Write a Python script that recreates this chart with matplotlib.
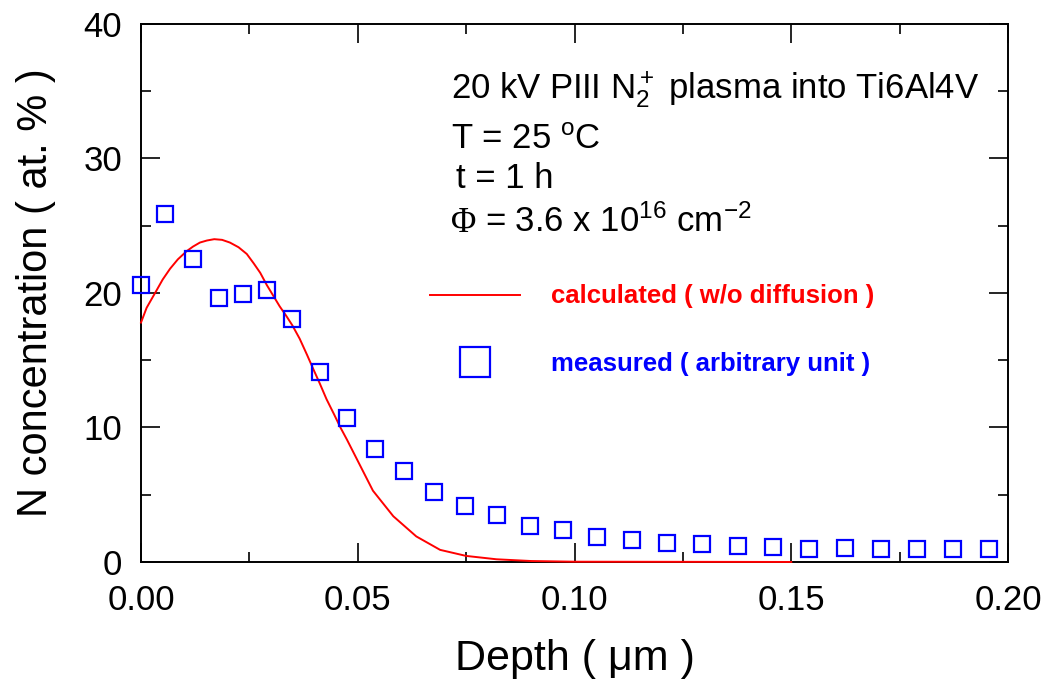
import matplotlib
matplotlib.use("Agg")
import matplotlib.pyplot as plt
from matplotlib.ticker import MultipleLocator

plt.rcParams['font.family'] = ['Liberation Sans', 'DejaVu Sans']
plt.rcParams['mathtext.fontset'] = 'custom'
plt.rcParams['mathtext.rm'] = 'Liberation Sans'
plt.rcParams['mathtext.it'] = 'Liberation Sans'

# calculated profile (no diffusion)
calc_depth = [0.0, 0.0013, 0.0036, 0.0050, 0.0067, 0.0085, 0.0105, 0.0120,
              0.0136, 0.0152, 0.0169, 0.0187, 0.0205, 0.0225, 0.0244, 0.0260,
              0.0275, 0.0290, 0.0305, 0.0320, 0.0335, 0.0349, 0.0366, 0.0383,
              0.0398, 0.0412, 0.0428, 0.0445, 0.0460, 0.0475, 0.0505, 0.0535,
              0.0582, 0.0635, 0.069, 0.075, 0.082, 0.090, 0.100, 0.150]
calc_conc = [17.8, 18.9, 20.2, 21.0, 21.8, 22.5, 23.1, 23.45,
             23.75, 23.9, 24.0, 23.95, 23.75, 23.4, 22.9, 22.2,
             21.5, 20.6, 19.8, 19.0, 18.3, 17.6, 16.6, 15.4,
             14.3, 13.3, 12.1, 11.0, 10.0, 9.1, 7.2, 5.3,
             3.4, 1.9, 0.9, 0.45, 0.2, 0.07, 0.02, 0.0]

# measured profile
meas_depth = [0.0, 0.0055, 0.0121, 0.0179, 0.0235, 0.0291, 0.0349, 0.0412,
              0.0475, 0.054, 0.0607, 0.0677, 0.0748, 0.0821, 0.0897, 0.0974,
              0.1053, 0.1132, 0.1213, 0.1293, 0.1376, 0.1458, 0.1542, 0.1624,
              0.1707, 0.1789, 0.1874, 0.1957]
meas_conc = [20.6, 25.9, 22.5, 19.6, 19.9, 20.2, 18.1, 14.1,
             10.7, 8.4, 6.75, 5.2, 4.16, 3.47, 2.65, 2.35,
             1.86, 1.61, 1.41, 1.34, 1.16, 1.11, 0.96, 1.04,
             0.96, 0.96, 0.96, 0.99]

fig = plt.figure(figsize=(10.46, 6.83), dpi=100)
ax = fig.add_axes([0.1348, 0.1772, 0.8289, 0.7877])

ax.plot(calc_depth, calc_conc, color='#ff0000', lw=1.4, zorder=4,
        clip_on=False)
ax.plot(meas_depth, meas_conc, ls='none', marker='s', ms=11, mfc='none',
        mec='#0000ff', mew=1.6, zorder=5, clip_on=False)

ax.set_xlim(0, 0.20)
ax.set_ylim(0, 40)
ax.xaxis.set_minor_locator(MultipleLocator(0.025))
ax.yaxis.set_major_locator(MultipleLocator(10))
ax.yaxis.set_minor_locator(MultipleLocator(5))
ax.set_xticks([0, 0.05, 0.10, 0.15, 0.20])
ax.set_xticklabels(['0.00', '0.05', '0.10', '0.15', '0.20'])
ax.tick_params(which='both', direction='in', top=True, right=True, width=1.2,
               labelsize=25)
ax.tick_params(which='major', length=14)
ax.tick_params(which='minor', length=7)
ax.tick_params(axis='x', pad=16)
ax.tick_params(axis='y', pad=13.5)
for s in ax.spines.values():
    s.set_linewidth(1.4)

ax.set_xlabel('Depth ( \u03bcm )', fontsize=31, labelpad=16)
ax.set_ylabel('N concentration ( at. % )', fontsize=30, labelpad=20)

# annotation block
ax.text(0.0714, 34.48, r'20 kV PIII N$_2^+$ plasma into Ti6Al4V', fontsize=25,
        va='baseline')
ax.text(0.0714, 30.68, r'T = 25 $^{\mathrm{o}}$C', fontsize=25, va='baseline')
ax.text(0.0726, 27.78, 't = 1 h', fontsize=25, va='baseline')
ax.text(0.0714, 24.56, '\u03a6', fontsize=25, va='baseline',
        family='Liberation Serif')
ax.text(0.0794, 24.56, r'= 3.6 x 10$^{16}$ cm$^{-2}$', fontsize=25,
        va='baseline')

# legend entries
ax.plot([0.0667, 0.0874], [19.83, 19.83], color='#ff0000', lw=1.4)
ax.text(0.0946, 19.75, 'calculated ( w/o diffusion )', color='#ff0000',
        fontsize=18.5, fontweight='bold', va='center')
ax.plot([0.0771], [14.89], ls='none', marker='s', ms=21.5, mfc='none',
        mec='#0000ff', mew=1.6)
ax.text(0.0946, 14.75, 'measured ( arbitrary unit )', color='#0000ff',
        fontsize=18.5, fontweight='bold', va='center')

fig.savefig('out.png', dpi=100)
